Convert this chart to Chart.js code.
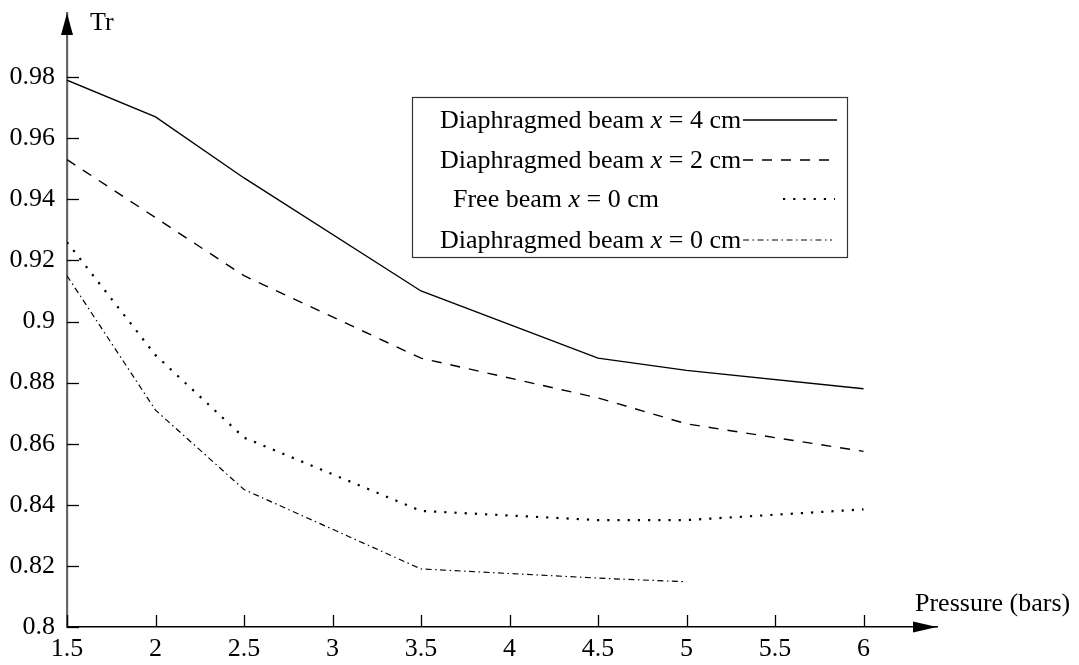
<!DOCTYPE html>
<html>
<head>
<meta charset="utf-8">
<script src="https://cdn.jsdelivr.net/npm/chart.js@4"></script>
<style>
  html, body { margin: 0; padding: 0; background: #fff; }
</style>
</head>
<body>
<canvas id="chart" width="1079" height="665"></canvas>
<script>
// Pressure (bars) at which Tr was measured
const pressures = [1.5, 2, 2.5, 3.5, 4.5, 5, 6];
const pressuresShort = [1.5, 2, 2.5, 3.5, 4.5, 5];

// Tr values for each beam configuration
const diaphragm4 = [0.979, 0.967, 0.947, 0.910, 0.888, 0.884, 0.878];
const diaphragm2 = [0.953, 0.934, 0.915, 0.888, 0.875, 0.8665, 0.8575];
const freeBeam0 = [0.926, 0.889, 0.862, 0.838, 0.835, 0.835, 0.8385];
const diaphragm0 = [0.915, 0.871, 0.845, 0.819, 0.816, 0.8148];

// Tick labels
const xTicks = [1.5, 2, 2.5, 3, 3.5, 4, 4.5, 5, 5.5, 6];
const yTicks = [0.8, 0.82, 0.84, 0.86, 0.88, 0.9, 0.92, 0.94, 0.96, 0.98];

// Legend text: [before italic x, after]
const legendLabels = [
    ['Diaphragmed beam ', ' = 4 cm'],
    ['Diaphragmed beam ', ' = 2 cm'],
    ['Free beam ', ' = 0 cm'],
    ['Diaphragmed beam ', ' = 0 cm']
];

const FONT = '"Liberation Serif", "DejaVu Serif", serif';
const toPoints = (xs, ys) => ys.map((y, i) => ({ x: xs[i], y: y }));

const decorations = {
    id: 'decorations',
    afterDraw(chart) {
        const ctx = chart.ctx;
        const xs = chart.scales.x, ys = chart.scales.y;
        const area = chart.chartArea;
        const x0 = xs.getPixelForValue(1.5);
        const y0 = ys.getPixelForValue(0.8);
        ctx.save();
        ctx.strokeStyle = '#000';
        ctx.fillStyle = '#000';
        ctx.lineWidth = 1.3;

        // inward tick marks
        yTicks.forEach(v => {
            const y = Math.round(ys.getPixelForValue(v)) + 0.5;
            ctx.beginPath();
            ctx.moveTo(x0, y);
            ctx.lineTo(x0 + 12, y);
            ctx.stroke();
        });
        xTicks.forEach(v => {
            const x = Math.round(xs.getPixelForValue(v)) + 0.5;
            ctx.beginPath();
            ctx.moveTo(x, y0);
            ctx.lineTo(x, y0 - 12);
            ctx.stroke();
        });

        // arrow heads
        ctx.beginPath();
        ctx.moveTo(x0, area.top);
        ctx.lineTo(x0 - 6, area.top + 22);
        ctx.lineTo(x0 + 6, area.top + 22);
        ctx.closePath();
        ctx.fill();
        ctx.beginPath();
        ctx.moveTo(area.right, y0);
        ctx.lineTo(area.right - 24, y0 - 5.5);
        ctx.lineTo(area.right - 24, y0 + 5.5);
        ctx.closePath();
        ctx.fill();

        // axis titles
        ctx.font = '26px ' + FONT;
        ctx.textBaseline = 'alphabetic';
        ctx.textAlign = 'left';
        ctx.fillText('Tr', x0 + 23, 30);
        ctx.fillText('Pressure (bars)', 915, 611);

        // legend box
        ctx.lineWidth = 1.2;
        ctx.strokeStyle = '#333';
        ctx.strokeRect(412.5, 97.5, 435, 160);
        const rowY = [120, 160, 199, 240];
        const textX = [440, 440, 453, 440];
        const sample = [[743, 837], [743, 835], [783, 835], [743, 832]];
        chart.data.datasets.forEach((ds, i) => {
            const [pre, post] = legendLabels[i];
            let x = textX[i];
            const y = rowY[i] + 8;
            ctx.font = '26px ' + FONT;
            ctx.fillText(pre, x, y);
            x += ctx.measureText(pre).width;
            ctx.font = 'italic 26px ' + FONT;
            ctx.fillText('x', x, y);
            x += ctx.measureText('x').width;
            ctx.font = '26px ' + FONT;
            ctx.fillText(post, x, y);

            ctx.strokeStyle = ds.borderColor;
            ctx.lineWidth = ds.borderWidth;
            ctx.setLineDash(ds.borderDash || []);
            ctx.beginPath();
            ctx.moveTo(sample[i][0], rowY[i]);
            ctx.lineTo(sample[i][1], rowY[i]);
            ctx.stroke();
            ctx.setLineDash([]);
        });
        ctx.restore();
    }
};

new Chart(document.getElementById('chart'), {
    type: 'line',
    data: {
        datasets: [
            { data: toPoints(pressures, diaphragm4), borderColor: '#000', borderWidth: 1.4, borderDash: [] },
            { data: toPoints(pressures, diaphragm2), borderColor: '#000', borderWidth: 1.4, borderDash: [10, 9] },
            { data: toPoints(pressures, freeBeam0), borderColor: '#000', borderWidth: 2.2, borderDash: [2.2, 8] },
            { data: toPoints(pressuresShort, diaphragm0), borderColor: '#000', borderWidth: 1.2, borderDash: [6, 3.5, 1.5, 3.5] }
        ]
    },
    options: {
        responsive: false,
        devicePixelRatio: 1,
        animation: false,
        elements: { point: { radius: 0 }, line: { tension: 0, fill: false } },
        layout: { padding: { top: 13, right: 142, left: 0, bottom: 0 } },
        plugins: { legend: { display: false }, tooltip: { enabled: false } },
        scales: {
            x: {
                type: 'linear',
                min: 1.5,
                max: 6.415,
                afterBuildTicks: s => { s.ticks = xTicks.map(v => ({ value: v })); },
                afterFit: s => { s.height = 38; s.paddingLeft = 0; s.paddingRight = 0; },
                ticks: {
                    color: '#000',
                    font: { family: FONT, size: 26 },
                    padding: 7,
                    maxRotation: 0,
                    autoSkip: false,
                    callback: v => String(v)
                },
                grid: { drawOnChartArea: false, drawTicks: false },
                border: { display: true, color: '#000', width: 1.5 }
            },
            y: {
                min: 0.8,
                max: 1.001,
                afterBuildTicks: s => { s.ticks = yTicks.map(v => ({ value: v })); },
                afterFit: s => { s.width = 67; s.paddingTop = 0; s.paddingBottom = 0; },
                ticks: {
                    color: '#000',
                    font: { family: FONT, size: 26 },
                    padding: 12,
                    autoSkip: false,
                    callback: v => String(Math.round(v * 100) / 100)
                },
                grid: { drawOnChartArea: false, drawTicks: false },
                border: { display: true, color: '#666', width: 2.2 }
            }
        }
    },
    plugins: [decorations]
});
</script>
</body>
</html>
